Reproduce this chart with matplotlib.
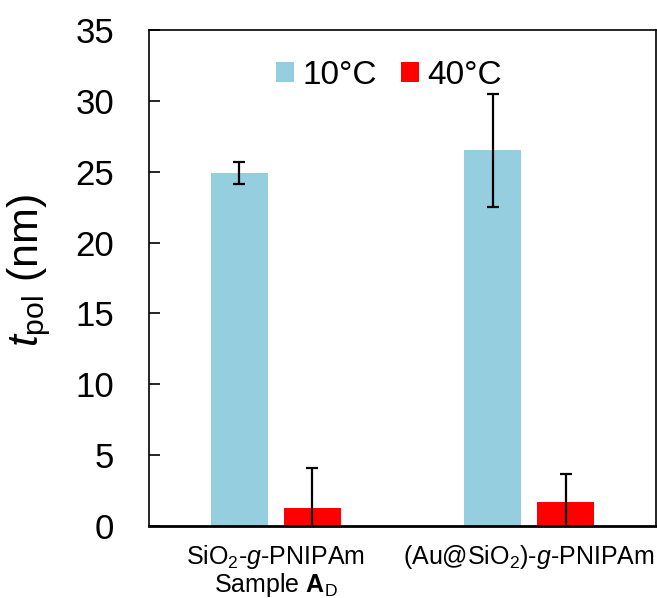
import matplotlib
matplotlib.use("Agg")
import matplotlib.pyplot as plt
import numpy as np

plt.rcParams['font.family'] = ['Liberation Sans', 'DejaVu Sans']
plt.rcParams['mathtext.fontset'] = 'custom'
plt.rcParams['mathtext.rm'] = 'Liberation Sans'
plt.rcParams['mathtext.it'] = 'Liberation Sans:italic'
plt.rcParams['mathtext.bf'] = 'Liberation Sans:bold'

categories = ["SiO$_2$-$g$-PNIPAm\nSample $\\mathbf{A}_\\mathrm{D}$",
              "(Au@SiO$_2$)-$g$-PNIPAm"]
series_names = ["10°C", "40°C"]
vals_10 = [24.9, 26.5]
err_10 = [0.8, 4.0]
vals_40 = [1.3, 1.7]
err_40 = [2.8, 2.0]
yticks = [0, 5, 10, 15, 20, 25, 30, 35]

fig = plt.figure(figsize=(6.57, 5.98), dpi=100)
ax = fig.add_axes([149/657, (598-526)/598, (656-149)/657, (526-30)/598])

x = np.arange(len(categories))
w = 0.225
off = 0.144
ax.bar(x - off, vals_10, w, color='#95CEDE', label=series_names[0], zorder=2)
ax.bar(x + off, vals_40, w, color='#FF0000', label=series_names[1], zorder=2)
ax.errorbar(x - off, vals_10, yerr=err_10, fmt='none', ecolor='black',
            elinewidth=1.6, capsize=4.2, capthick=1.6, zorder=3)
ax.errorbar(x + off, vals_40, yerr=err_40, fmt='none', ecolor='black',
            elinewidth=1.6, capsize=4.2, capthick=1.6, zorder=3)

ax.set_xlim(-0.5, 1.5)
ax.set_ylim(0, 35)
ax.set_yticks(yticks)
ax.set_xticks(x)
ax.set_xticklabels(categories, fontsize=18, linespacing=1.0)
ax.tick_params(axis='x', length=0, pad=12)
ax.tick_params(axis='y', direction='in', length=8, width=1.2, labelsize=25, pad=25)
for s in ['left', 'top', 'right']:
    ax.spines[s].set_linewidth(1.2)
ax.spines['bottom'].set_linewidth(2.0)

ax.set_ylabel('$t_{\\mathrm{pol}}$ (nm)', fontsize=31)
ax.yaxis.set_label_coords(-0.19, 0.515)

ax.legend(loc='upper center', bbox_to_anchor=(0.474, 0.98), ncol=2, frameon=False,
          fontsize=24, handlelength=0.52, handleheight=0.52, handletextpad=0.27,
          columnspacing=0.72, borderaxespad=0.2)

fig.savefig('out.png', dpi=100)
